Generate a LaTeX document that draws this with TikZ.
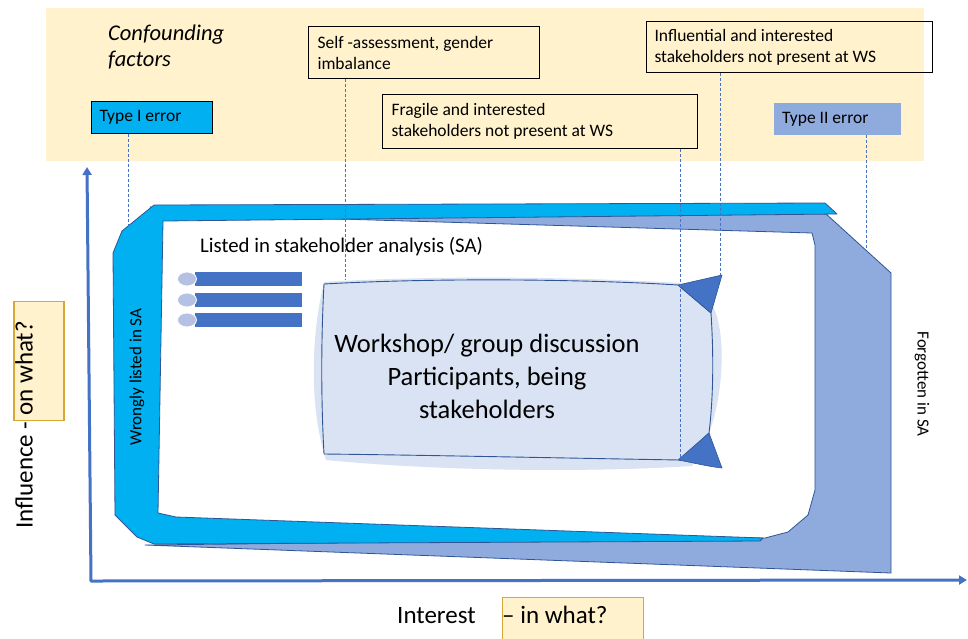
\documentclass[tikz,border=0pt]{standalone}
\usepackage{fontspec}
\setmainfont{Carlito}
\usetikzlibrary{arrows.meta}
\definecolor{beige}{HTML}{FFF2CC}
\definecolor{cyanf}{HTML}{00B0F0}
\definecolor{lblue}{HTML}{8FAADC}
\definecolor{dblue}{HTML}{4472C4}
\definecolor{edgec}{HTML}{2F5597}
\definecolor{wsfill}{HTML}{DAE3F3}
\definecolor{dotc}{HTML}{B4C0E4}
\definecolor{goldc}{HTML}{D6A83A}
\begin{document}
\begin{tikzpicture}[x=1pt,y=-1pt,
  textbox/.style={draw=black, line width=1pt, anchor=north west, align=flush left,
    inner xsep=9pt, inner ysep=0pt, font=\fontsize{17.5}{21}\selectfont},
  errbox/.style={anchor=north west, align=flush left, inner xsep=8pt, inner ysep=0pt,
    font=\fontsize{17.5}{21}\selectfont},
  dashline/.style={draw=dblue, line width=0.7pt, dash pattern=on 3pt off 2pt},
  band/.style={draw=edgec, line width=0.8pt, line join=round},
  tri/.style={fill=dblue, draw=edgec, line width=0.6pt, line join=round},
  axisline/.style={draw=dblue, line width=3pt, line join=round,
    arrows={Triangle[length=8pt,width=9pt]-Triangle[length=8pt,width=9pt]}},
  sidelabel/.style={font=\fontsize{17}{20}\selectfont, inner sep=0pt},
  biglabel/.style={font=\fontsize{25}{30}\selectfont, inner sep=0pt},
  qbox/.style={fill=beige, draw=goldc, line width=1.2pt}
]
\useasboundingbox (0,0) rectangle (968,638);
\fill[white] (0,0) rectangle (968,638);

% confounding factors band
\fill[beige] (46,8) rectangle (924,161);
\node[anchor=north west, align=flush left, inner sep=0pt,
  font=\itshape\fontsize{22.5}{26.5}\selectfont] (conf) at (108,24.5) {Confounding\\factors};

\node[errbox, fill=cyanf, draw=black, line width=1pt, text width=105pt, minimum height=32pt] (type1) at (91,101) {Type I error};
\node[errbox, fill=lblue, text width=111pt, minimum height=32pt] (type2) at (774,103) {Type II error};
\node[textbox, text width=213pt, minimum height=52pt] (self) at (308,26) {Self -assessment, gender\\imbalance};
\node[textbox, text width=297pt, minimum height=54pt] (fragile) at (382,94) {Fragile and interested\\stakeholders not present at WS};
\node[textbox, inner xsep=8pt, text width=270pt, minimum height=51pt] (influ) at (646,21) {Influential and interested\\stakeholders not present at WS};

% Forgotten in SA (light blue frame)
\path[band, fill=lblue] (150,207) -- (825,213) -- (891,273) -- (891,573) -- (145,545)
  -- (765,538) -- (788,532) -- (808,515) -- (815,490) -- (815,245) -- (812,233) -- (170,214) -- cycle;
% Wrongly listed in SA (cyan frame)
\path[band, fill=cyanf] (113,253) -- (122,231) -- (154,205) -- (825,203) -- (837,214)
  -- (163,221) -- (158,513) -- (176,517) -- (763,538) -- (760,541) -- (154,544)
  -- (137,537) -- (115,515) -- cycle;

\node[sidelabel, rotate=90] (wrong) at (137,377) {Wrongly listed in SA};
\node[sidelabel, rotate=-90] (forgot) at (922,384) {Forgotten in SA};

\node[anchor=base west, inner sep=0pt, font=\fontsize{20.8}{24}\selectfont] (listed) at (200,252) {Listed in stakeholder analysis (SA)};

% list bars
\foreach \yy in {279,300,320}{
  \fill[dblue] (195,\yy-7) rectangle (302,\yy+7);
  \path[fill=dotc, draw=white, line width=0.8pt] (187,\yy) ellipse [x radius=9.5pt, y radius=7pt];
}

% workshop box
\path[fill=wsfill] (324,282) .. controls (310,340) and (310,410) .. (326,460)
  .. controls (450,472) and (600,472) .. (692,466) .. controls (726,420) and (728,330) .. (712,305)
  -- (680,283) .. controls (560,276) and (420,276) .. (324,282) -- cycle;
\path[draw=edgec, line width=0.9pt, fill=wsfill, line join=round] (324,284) .. controls (450,277) and (600,280) .. (678,285)
  -- (711,313) .. controls (714,360) and (713,400) .. (709,433) -- (680,460)
  .. controls (560,458) and (420,455) .. (324,454) .. controls (321,400) and (321,340) .. (324,284) -- cycle;
\path[tri] (678,285) -- (722,275) -- (711,313) -- cycle;
\path[tri] (678,460) .. controls (695,463) and (705,466) .. (722,468) -- (709,433) -- cycle;
\node[align=flush center, font=\fontsize{26.5}{33}\selectfont, inner sep=0pt] (ws) at (487,376)
  {Workshop/ group discussion\\Participants, being\\ stakeholders};

% dashed connectors
\coordinate (e1) at (128,226);
\coordinate (e2) at (345,280);
\coordinate (e3) at (680,457);
\coordinate (e4) at (720,275);
\coordinate (e5) at (866,248);
\draw[dashline] ([xshift=37pt]type1.south west) -- (e1);
\draw[dashline] ([xshift=37pt]self.south west) -- (e2);
\draw[dashline] ([xshift=298pt]fragile.south west) -- (e3);
\draw[dashline] ([xshift=74pt]influ.south west) -- (e4);
\draw[dashline] ([xshift=92pt]type2.south west) -- (e5);

% axes
\coordinate (ytip) at (87,167);
\coordinate (origin) at (91,581);
\coordinate (xtip) at (967,580);
\draw[axisline] (ytip) -- (origin) -- (xtip);

% axis labels
\node[qbox, minimum width=50pt, minimum height=119pt, inner sep=0pt] (onbox) at (39,361) {};
\node[biglabel, rotate=90] (infl) at (24,425) {Influence - on what?};
\node[qbox, anchor=north west, minimum width=141pt, minimum height=44pt, inner sep=0pt] (inbox) at (502,597) {};
\node[biglabel, anchor=base west] (interest) at (397,623) {Interest};
\node[biglabel, anchor=base west] (inwhat) at (502,623) {– in what?};
\end{tikzpicture}
\end{document}
